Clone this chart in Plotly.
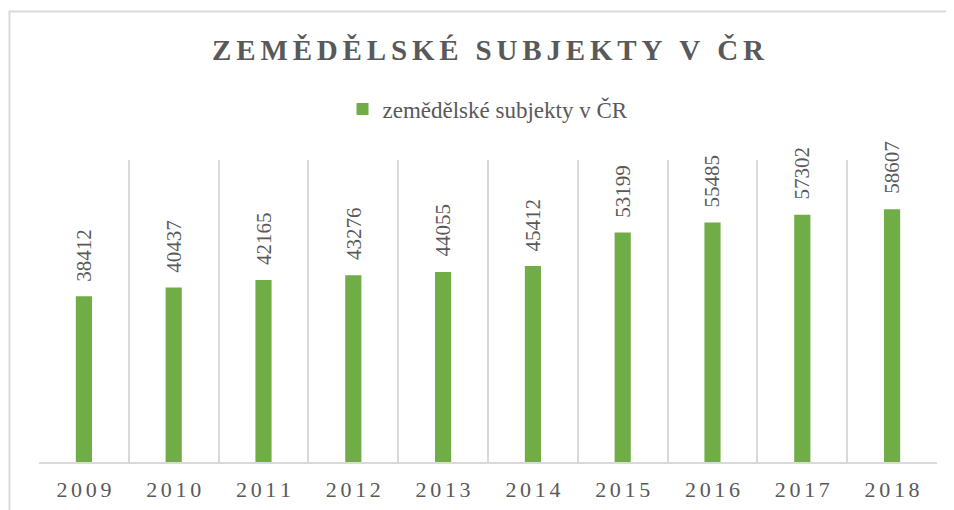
import plotly.graph_objects as go

years = ["2009", "2010", "2011", "2012", "2013", "2014", "2015", "2016", "2017", "2018"]
values = [38412, 40437, 42165, 43276, 44055, 45412, 53199, 55485, 57302, 58607]
series_name = "zemědělské subjekty v ČR"
title_text = "ZEMĚDĚLSKÉ SUBJEKTY V ČR"

GRAY = "#595959"
GREEN = "#70AD47"
GRID = "#D9D9D9"
FONT = "Liberation Serif"

def spaced(s, sep):
    return (sep + " " + sep).join(sep.join(w) for w in s.split(" "))

# category labels drawn with a little letter spacing (as in the original)
cats = [spaced(y, "\u200A\u200A") for y in years]

fig = go.Figure()
fig.add_trace(go.Bar(
    x=cats, y=values, name=series_name,
    marker=dict(color=GREEN, line=dict(width=0)),
    showlegend=True,
))

for c, v in zip(cats, values):
    fig.add_annotation(
        x=c, y=v, xref="x", yref="y", text=str(v),
        textangle=-90, showarrow=False, yanchor="bottom", xanchor="center",
        yshift=13, font=dict(family=FONT, size=21, color=GRAY),
    )

# chart frame (light border)
fig.add_shape(type="rect", xref="paper", yref="paper",
              x0=-0.0329, x1=1.1, y0=-0.4, y1=1.4917,
              line=dict(color=GRID, width=2), fillcolor="rgba(0,0,0,0)", layer="below")

# page body has an 8px default margin, so the figure is 946x502 to fill a 954x510 window
W, H = 946, 502
fig.update_layout(
    width=W, height=H,
    margin=dict(l=31, r=17, t=152, b=48),
    paper_bgcolor="white", plot_bgcolor="white",
    bargap=0.82,
    title=dict(text="<b>" + spaced(title_text, "\u2006") + "</b>",
               x=0.5, xref="paper", xanchor="center",
               y=1 - 42 / H, yref="container", yanchor="middle",
               font=dict(family=FONT, size=29, color=GRAY)),
    legend=dict(orientation="h", x=0.5, xanchor="center", y=1.169, yanchor="middle",
                font=dict(family=FONT, size=23, color=GRAY), bgcolor="rgba(0,0,0,0)"),
    xaxis=dict(type="category", tickson="boundaries", showgrid=True, gridcolor=GRID, gridwidth=1.5,
               ticks="", automargin=False,
               showline=True, linecolor=GRID, linewidth=1.5,
               tickfont=dict(family=FONT, size=22, color=GRAY), ticklabelstandoff=7),
    yaxis=dict(range=[0, 70000], showgrid=False, zeroline=False, showticklabels=False,
               showline=False),
)

fig.write_html("out.html")
